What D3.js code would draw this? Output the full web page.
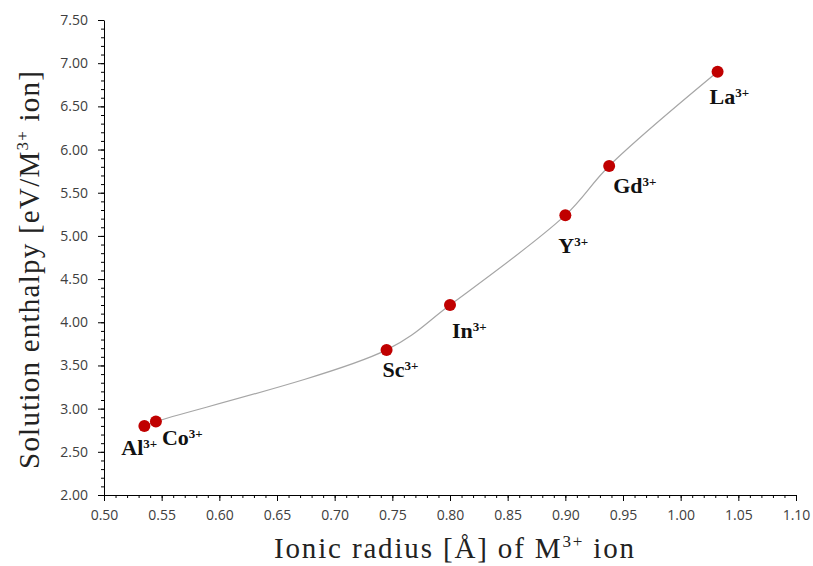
<!DOCTYPE html>
<html lang="en">
<head>
  <meta charset="UTF-8">
  <title>Solution enthalpy vs ionic radius</title>
  <script src="https://d3js.org/d3.v7.min.js"></script>
  <style>
    body { margin: 0; background: #fff; }
  </style>
</head>
<body>
  <div id="canvas"></div>
  <script>
    const ions = ['Al', 'Co', 'Sc', 'In', 'Y', 'Gd', 'La'];
    const radius = [0.535, 0.545, 0.745, 0.800, 0.900, 0.938, 1.032];
    const enthalpy = [2.80, 2.85, 3.68, 4.20, 5.24, 5.81, 6.90];
    const xTicks = d3.range(0.50, 1.1001, 0.05);
    const yTicks = d3.range(2.00, 7.5001, 0.50);
    // label offsets from the marker (left edge, baseline), in px
    const labelDx = [-23, 6, -4, 2, -7, 4, -8];
    const labelDy = [29, 23, 27, 33, 38, 27, 32];

    const width = 813;
    const height = 566;
    const padL = 104, padR = 796, padT = 20, padB = 495;

    const x = d3.scaleLinear().domain([0.5, 1.1]).range([padL, padR]);
    const y = d3.scaleLinear().domain([2, 7.5]).range([padB, padT]);

    const svg = d3.select('#canvas')
      .append('svg')
      .attr('width', width)
      .attr('height', height);

    const fmt = d3.format('.2f');

    // x axis, minor then major
    svg.append('g')
      .attr('transform', 'translate(0,' + padB + ')')
      .call(d3.axisBottom(x).tickValues(d3.range(0.50, 1.1001, 0.01)).tickSize(3).tickFormat('').tickSizeOuter(0))
      .call(g => g.select('.domain').remove());
    const xAxis = svg.append('g')
      .attr('transform', 'translate(0,' + padB + ')')
      .call(d3.axisBottom(x).tickValues(xTicks).tickSize(6).tickPadding(9).tickFormat(fmt).tickSizeOuter(0));
    xAxis.selectAll('text')
      .style('font-family', "'Open Sans', sans-serif")
      .style('font-size', '14px')
      .attr('fill', '#404040');

    // y axis
    svg.append('g')
      .attr('transform', 'translate(' + padL + ',0)')
      .call(d3.axisLeft(y).tickValues(d3.range(2.0, 7.5001, 0.1)).tickSize(3).tickFormat('').tickSizeOuter(0))
      .call(g => g.select('.domain').remove());
    const yAxis = svg.append('g')
      .attr('transform', 'translate(' + padL + ',0)')
      .call(d3.axisLeft(y).tickValues(yTicks).tickSize(6).tickPadding(10).tickFormat(fmt).tickSizeOuter(0));
    yAxis.selectAll('text')
      .style('font-family', "'Open Sans', sans-serif")
      .style('font-size', '14px')
      .attr('fill', '#404040');

    svg.selectAll('.domain, .tick line').attr('stroke', '#000').attr('stroke-width', 1);

    // smoothed connecting line
    const pts = radius.map((r, i) => [r, enthalpy[i]]);
    svg.append('path')
      .datum(pts)
      .attr('fill', 'none')
      .attr('stroke', '#a6a6a6')
      .attr('stroke-width', 1.2)
      .attr('d', d3.line().x(d => x(d[0])).y(d => y(d[1])).curve(d3.curveCatmullRom.alpha(0.5)));

    // markers
    svg.selectAll('circle')
      .data(pts)
      .enter()
      .append('circle')
      .attr('cx', d => x(d[0]))
      .attr('cy', d => y(d[1]))
      .attr('r', 6)
      .attr('fill', '#c00000');

    // ion labels
    const labels = svg.selectAll('text.ion')
      .data(ions)
      .enter()
      .append('text')
      .attr('class', 'ion')
      .attr('x', (d, i) => x(radius[i]) + labelDx[i])
      .attr('y', (d, i) => y(enthalpy[i]) + labelDy[i])
      .style('font-family', "'Liberation Serif', serif")
      .style('font-weight', 'bold')
      .style('font-size', '22px')
      .attr('fill', '#111');
    labels.append('tspan').text(d => d);
    labels.append('tspan')
      .attr('dy', -7)
      .style('font-size', '13px')
      .text('3+');

    // axis titles
    const xt = svg.append('text')
      .attr('x', 454)
      .attr('y', 558)
      .attr('text-anchor', 'middle')
      .attr('textLength', 360)
      .attr('lengthAdjust', 'spacing')
      .style('font-family', "'Liberation Serif', serif")
      .style('font-size', '29px')
      .attr('fill', '#222');
    xt.append('tspan').text('Ionic radius [Å] of M');
    xt.append('tspan').attr('dy', -11).style('font-size', '17px').text('3+');
    xt.append('tspan').attr('dy', 11).text(' ion');

    const yt = svg.append('text')
      .attr('transform', 'translate(39,' + 270 + ') rotate(-90)')
      .attr('text-anchor', 'middle')
      .attr('textLength', 398)
      .attr('lengthAdjust', 'spacing')
      .style('font-family', "'Liberation Serif', serif")
      .style('font-size', '29px')
      .attr('fill', '#222');
    yt.append('tspan').text('Solution enthalpy [eV/M');
    yt.append('tspan').attr('dy', -11).style('font-size', '17px').text('3+');
    yt.append('tspan').attr('dy', 11).text(' ion]');
  </script>
</body>
</html>
